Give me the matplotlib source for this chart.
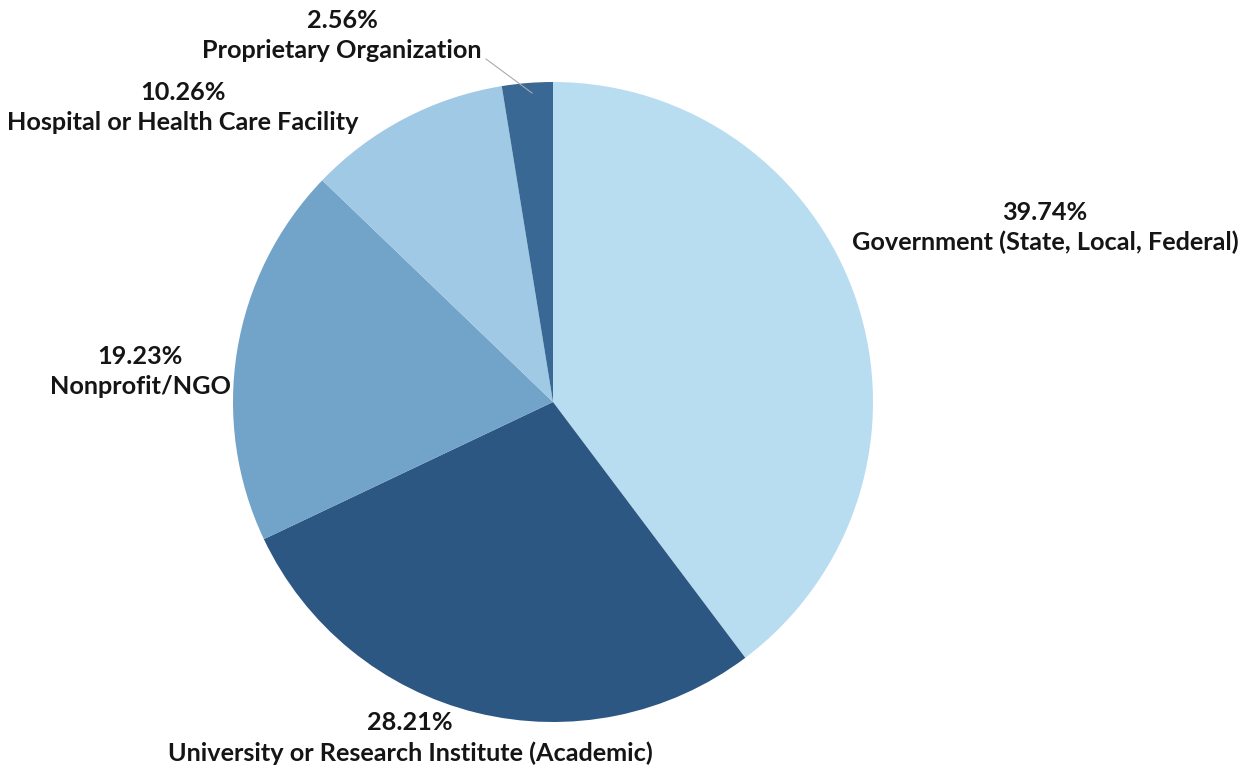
import matplotlib.pyplot as plt

# data
labels = ['Government (State, Local, Federal)', 'University or Research Institute (Academic)',
          'Nonprofit/NGO', 'Hospital or Health Care Facility', 'Proprietary Organization']
shares = [39.74, 28.21, 19.23, 10.26, 2.56]
colors = ['#b9ddf0', '#2c5783', '#72a3c8', '#a0c9e5', '#3a6894']

W, H = 1258, 771
fig = plt.figure(figsize=(W / 100, H / 100), dpi=100)
ax = fig.add_axes([0, 0, 1, 1])

cx, cy, r = 553, 402, 320
# y axis is inverted, so counterclock=True draws clockwise on screen
ax.pie(shares, colors=colors, startangle=-90, counterclock=True,
       center=(cx, cy), radius=r, frame=True,
       wedgeprops=dict(linewidth=0))
ax.set_xlim(0, W)
ax.set_ylim(H, 0)
ax.set_aspect('equal')
ax.axis('off')

# label positions (center of text block)
label_pos = [(1045, 227), (410, 738), (140, 371), (183, 107), (342, 35)]
font = ['Lato', 'DejaVu Sans']
for lab, s, (x, y) in zip(labels, shares, label_pos):
    ax.text(x, y - 15, f'{s:.2f}%', ha='center', va='center', fontsize=18.2,
            fontweight='bold', family=font, color='#151515')
    ax.text(x, y + 15, lab, ha='center', va='center', fontsize=18.2,
            fontweight='bold', family=font, color='#151515')

# leader line for the small slice
ax.plot([486, 532], [59, 93], color='#aaaaaa', linewidth=0.8)

fig.savefig('out.png', dpi=100)
